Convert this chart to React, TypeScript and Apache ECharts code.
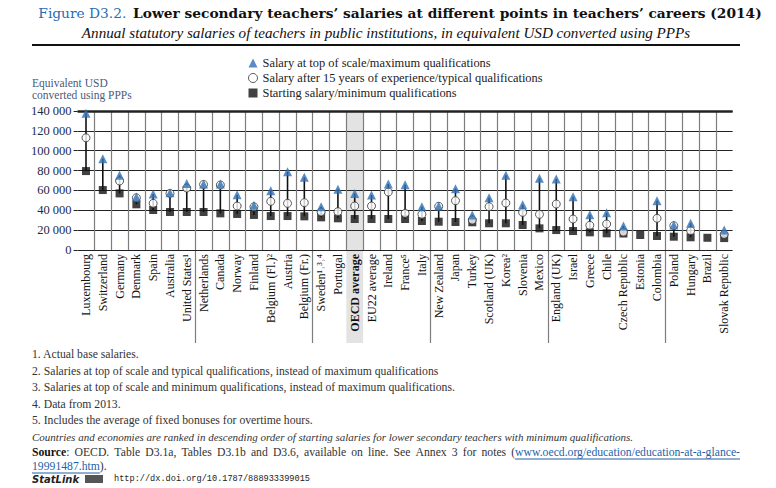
import React, { useEffect, useRef } from "react";
import * as echarts from "echarts";

const categories = [
  "Luxembourg", "Switzerland", "Germany", "Denmark", "Spain", "Australia", "United States¹",
  "Netherlands", "Canada", "Norway", "Finland", "Belgium (Fl.)²", "Austria", "Belgium (Fr.)",
  "Sweden¹˒³˒⁴", "Portugal", "OECD average", "EU22 average", "Ireland", "France⁵", "Italy",
  "New Zealand", "Japan", "Turkey", "Scotland (UK)", "Korea²", "Slovenia", "Mexico",
  "England (UK)", "Israel", "Greece", "Chile", "Czech Republic", "Estonia", "Colombia",
  "Poland", "Hungary", "Brazil", "Slovak Republic",
];

const topSalary = [
  137700, 92000, 75200, 53400, 56400, 57700, 67100, 66500, 66500, 55700, 45000, 59800, 78900,
  73200, 43600, 61100, 57000, 55400, 66500, 65800, 43600, 44300, 61800, 35300, 52700, 75200,
  45600, 72200, 71500, 53700, 35600, 37600, 24200, null, 49700, 25200, 26900, null, 20100,
];

const fifteenYears = [
  113000, null, 69500, 52600, 47000, 57000, 62400, 66000, 65500, 44300, 43500, 49000, 47000,
  47700, 38300, 38600, 44300, 44300, 58400, 36900, 35900, 44000, 49700, 30200, 43600, 47300,
  37900, 35900, 46300, 31200, 24900, 26200, 18100, null, 31900, 24500, 19500, null, 15800,
];

const startSalary = [
  79500, 60400, 57000, 46000, 40300, 38300, 38300, 38300, 36900, 36300, 35300, 34200, 34200,
  33900, 32900, 31900, 31200, 31200, 31200, 31200, 29200, 28500, 28200, 27900, 26900, 26900,
  25200, 21800, 20100, 19100, 17800, 16800, 16600, 15100, 14100, 13400, 12800, 12300, 12000,
];

const yTicks = [0, 20000, 40000, 60000, 80000, 100000, 120000, 140000];

const seriesNames = [
  "Salary at top of scale/maximum qualifications",
  "Salary after 15 years of experience/typical qualifications",
  "Starting salary/minimum qualifications",
];

const footnotes = [
  "1. Actual base salaries.",
  "2. Salaries at top of scale and typical qualifications, instead of maximum qualifications",
  "3. Salaries at top of scale and minimum qualifications, instead of maximum qualifications.",
  "4. Data from 2013.",
  "5. Includes the average of fixed bonuses for overtime hours.",
];

const titleLabel = "Figure D3.2.";
const titleText = "Lower secondary teachers’ salaries at different points in teachers’ careers (2014)";
const subtitleText =
  "Annual statutory salaries of teachers in public institutions, in equivalent USD converted using PPPs";
const rankingNote =
  "Countries and economies are ranked in descending order of starting salaries for lower secondary teachers with minimum qualifications.";
const sourceWords = ["OECD.", "Table", "D3.1a,", "Tables", "D3.1b", "and", "D3.6,", "available", "on", "line.", "See", "Annex", "3", "for", "notes", "("];
const linkPart1 = "www.oecd.org/education/education-at-a-glance-";
const linkPart2 = "19991487.htm";
const statUrl = "http://dx.doi.org/10.1787/888933399015";

const highlight = "OECD average";
const SERIF = "Liberation Serif";

function fmt(v: number) {
  return String(v).replace(/\B(?=(\d{3})+(?!\d))/g, " ");
}

const ctx = typeof document !== "undefined" ? document.createElement("canvas").getContext("2d") : null;
function measure(text: string, font: string) {
  if (!ctx) return text.length * 6;
  ctx.font = font;
  return ctx.measureText(text).width;
}

export default function App() {
  const ref = useRef<HTMLDivElement>(null);
  useEffect(() => {
    document.body.style.margin = "0";
    const chart = echarts.init(ref.current!, null, { renderer: "svg" });
    const gridLeft = 77.6;
    const gridWidth = 655;
    const stems = categories.map((c, i) => {
      const hi = topSalary[i] ?? fifteenYears[i];
      return hi == null ? [i, startSalary[i], startSalary[i]] : [i, startSalary[i], hi];
    });
    const splitV = {
      show: true,
      showMinLine: false,
      showMaxLine: false,
      lineStyle: { color: "#7d7d7d", width: 1.2 },
    };

    const tf = (s: number) => `bold ${s}px 'DejaVu Serif'`;
    const tfa = (s: number) => `${s}px 'DejaVu Serif'`;
    const tw15 = measure(titleLabel + "  ", tfa(15)) + measure(titleText, tf(15));
    const tSize = Math.min(17, (15 * 726) / tw15);
    const sw14 = measure(subtitleText, `italic 14px '${SERIF}'`);
    const sSize = Math.min(16, (14 * 609) / sw14);

    const FN = 11.7;
    const fnFont = `${FN}px '${SERIF}'`;
    const footTexts: any[] = footnotes.map((t, i) => ({
      type: "text",
      left: 32,
      top: 348.5 + i * 16.5,
      style: { text: t, font: fnFont, fill: "#333" },
    }));

    const linkW = measure(linkPart1, fnFont);
    const linkX = 740 - linkW;
    const firstW = measure("Source", `bold ${FN}px '${SERIF}'`) + measure(":", fnFont);
    const wordsW = sourceWords.map((w) => measure(w, fnFont));
    const nGaps = sourceWords.length;
    const used = firstW + wordsW.reduce((a, b) => a + b, 0);
    const gap = (linkX - 32 - used) / nGaps;
    const sourceEls: any[] = [
      {
        type: "text",
        left: 32,
        top: 446,
        style: {
          text: "{b|Source}:",
          font: fnFont,
          fill: "#333",
          rich: { b: { font: `bold ${FN}px '${SERIF}'`, fill: "#111" } },
        },
      },
    ];
    let cx = 32 + firstW + gap;
    sourceWords.forEach((w, i) => {
      const isLast = i === sourceWords.length - 1;
      const x = isLast ? linkX - wordsW[i] : cx;
      sourceEls.push({ type: "text", left: x, top: 446, style: { text: w, font: fnFont, fill: "#333" } });
      cx += wordsW[i] + gap;
    });
    sourceEls.push({
      type: "text",
      left: linkX,
      top: 446,
      style: { text: linkPart1, font: fnFont, fill: "#1f5fa8" },
    });
    sourceEls.push({
      type: "line",
      shape: { x1: linkX, y1: 459, x2: 740, y2: 459 },
      style: { stroke: "#1f5fa8", lineWidth: 1 },
    });
    const l2W = measure(linkPart2, fnFont);
    sourceEls.push({
      type: "text",
      left: 32,
      top: 460,
      style: { text: `{u|${linkPart2}}).`, font: fnFont, fill: "#333", rich: { u: { font: fnFont, fill: "#1f5fa8" } } },
    });
    sourceEls.push({
      type: "line",
      shape: { x1: 32, y1: 473, x2: 32 + l2W, y2: 473 },
      style: { stroke: "#1f5fa8", lineWidth: 1 },
    });

    chart.setOption({
      animation: false,
      textStyle: { fontFamily: SERIF },
      legend: {
        orient: "vertical",
        left: 248,
        top: 57,
        padding: 0,
        itemWidth: 9,
        itemHeight: 9,
        itemGap: 3,
        textStyle: { fontSize: 12.4, lineHeight: 12, color: "#222", fontFamily: SERIF },
        data: [
          { name: seriesNames[0] },
          { name: seriesNames[1], itemStyle: { borderWidth: 1, borderColor: "#333", color: "#fff" } },
          { name: seriesNames[2] },
        ],
      },
      grid: [
        { left: gridLeft, top: 111, width: gridWidth, height: 139 },
        { left: gridLeft, top: 250, width: gridWidth, height: 93 },
      ],
      xAxis: [
        {
          type: "category",
          gridIndex: 0,
          data: categories,
          z: 3,
          axisLine: { show: false },
          axisTick: { show: false },
          splitLine: splitV,
          axisLabel: {
            interval: 0,
            rotate: 90,
            margin: 4,
            fontSize: 12,
            color: "#111",
            fontFamily: SERIF,
            formatter: (v: string) => (v === highlight ? `{b|${v}}` : v),
            rich: { b: { fontWeight: "bold", fontSize: 12, fontFamily: SERIF, color: "#111" } },
          },
        },
        {
          type: "category",
          gridIndex: 1,
          data: categories,
          z: 2,
          axisLine: { show: false },
          axisTick: { show: false },
          axisLabel: { show: false },
          splitLine: splitV,
        },
      ],
      yAxis: [
        {
          type: "value",
          gridIndex: 0,
          min: 0,
          max: 140000,
          interval: 20000,
          z: 3,
          axisLine: { show: false },
          axisTick: { show: true, length: 4, lineStyle: { color: "#222" } },
          splitLine: { show: true, lineStyle: { color: "#222", width: 1 } },
          axisLabel: {
            margin: 6,
            fontSize: 12.5,
            color: "#1c2a4a",
            fontFamily: SERIF,
            customValues: yTicks,
            formatter: (v: number) => fmt(v),
          },
        },
        { type: "value", gridIndex: 1, min: 0, max: 1, show: false },
      ],
      series: [
        {
          type: "bar",
          xAxisIndex: 0,
          yAxisIndex: 0,
          silent: true,
          z: 1,
          barWidth: "100%",
          itemStyle: { color: "#e3e3e3" },
          data: categories.map((c) => (c === highlight ? 140000 : "-")),
          markLine: {
            silent: true,
            symbol: "none",
            label: { show: false },
            lineStyle: { color: "#222", width: 2.5, type: "solid" },
            data: [{ yAxis: 140000 }],
          },
        },
        {
          type: "bar",
          xAxisIndex: 1,
          yAxisIndex: 1,
          silent: true,
          z: 1,
          barWidth: "100%",
          itemStyle: { color: "#e3e3e3" },
          data: categories.map((c) => (c === highlight ? 1 : "-")),
        },
        {
          type: "custom",
          xAxisIndex: 0,
          yAxisIndex: 0,
          z: 8,
          silent: true,
          data: stems,
          renderItem: (params: any, api: any) => {
            const a = api.coord([api.value(0), api.value(1)]);
            const b = api.coord([api.value(0), api.value(2)]);
            return {
              type: "line",
              shape: { x1: a[0], y1: a[1], x2: b[0], y2: b[1] },
              style: { stroke: "#111", lineWidth: 1.6 },
            };
          },
        },
        {
          name: seriesNames[2],
          type: "scatter",
          z: 9,
          symbol: "rect",
          symbolSize: 8,
          itemStyle: { color: "#111" },
          data: startSalary.map((v, i) => [i, v]),
        },
        {
          name: seriesNames[1],
          type: "scatter",
          z: 10,
          symbol: "circle",
          symbolSize: 8,
          itemStyle: { color: "#fff", borderColor: "#333", borderWidth: 1 },
          data: fifteenYears.map((v, i) => [i, v == null ? "-" : v]),
        },
        {
          name: seriesNames[0],
          type: "scatter",
          z: 11,
          symbol: "triangle",
          symbolSize: 9,
          itemStyle: { color: "#2f6fb3" },
          data: topSalary.map((v, i) => [i, v == null ? "-" : v]),
        },
      ],
      graphic: [
        {
          type: "text",
          x: 400,
          y: 13,
          style: {
            text: `{a|${titleLabel}}  {b|${titleText}}`,
            align: "center",
            verticalAlign: "middle",
            rich: {
              a: { font: tfa(tSize), fill: "#2a6db3" },
              b: { font: tf(tSize), fill: "#111" },
            },
          },
        },
        {
          type: "text",
          x: 386,
          y: 33,
          style: {
            text: subtitleText,
            align: "center",
            verticalAlign: "middle",
            font: `italic ${sSize}px '${SERIF}'`,
            fill: "#111",
          },
        },
        {
          type: "line",
          shape: { x1: 32, y1: 45, x2: 740, y2: 45 },
          style: { stroke: "#111", lineWidth: 2 },
        },
        {
          type: "text",
          left: 32,
          top: 77,
          style: {
            text: "Equivalent USD\nconverted using PPPs",
            font: `11.5px '${SERIF}'`,
            lineHeight: 12,
            fill: "#4b5a7a",
          },
        },
        ...footTexts,
        {
          type: "text",
          left: 32,
          top: 431,
          style: { text: rankingNote, font: `italic 11px '${SERIF}'`, fill: "#333" },
        },
        ...sourceEls,
        {
          type: "text",
          left: 32,
          top: 474,
          style: { text: "StatLink", font: `italic bold 10px 'DejaVu Sans'`, fill: "#222" },
        },
        {
          type: "rect",
          shape: { x: 85, y: 475, width: 18, height: 8 },
          style: { fill: "#555" },
        },
        {
          type: "text",
          left: 114,
          top: 474.5,
          style: { text: statUrl, font: `8.6px 'Liberation Mono'`, fill: "#222" },
        },
      ],
    });
    return () => chart.dispose();
  }, []);
  return <div ref={ref} style={{ width: 776, height: 488 }} />;
}
